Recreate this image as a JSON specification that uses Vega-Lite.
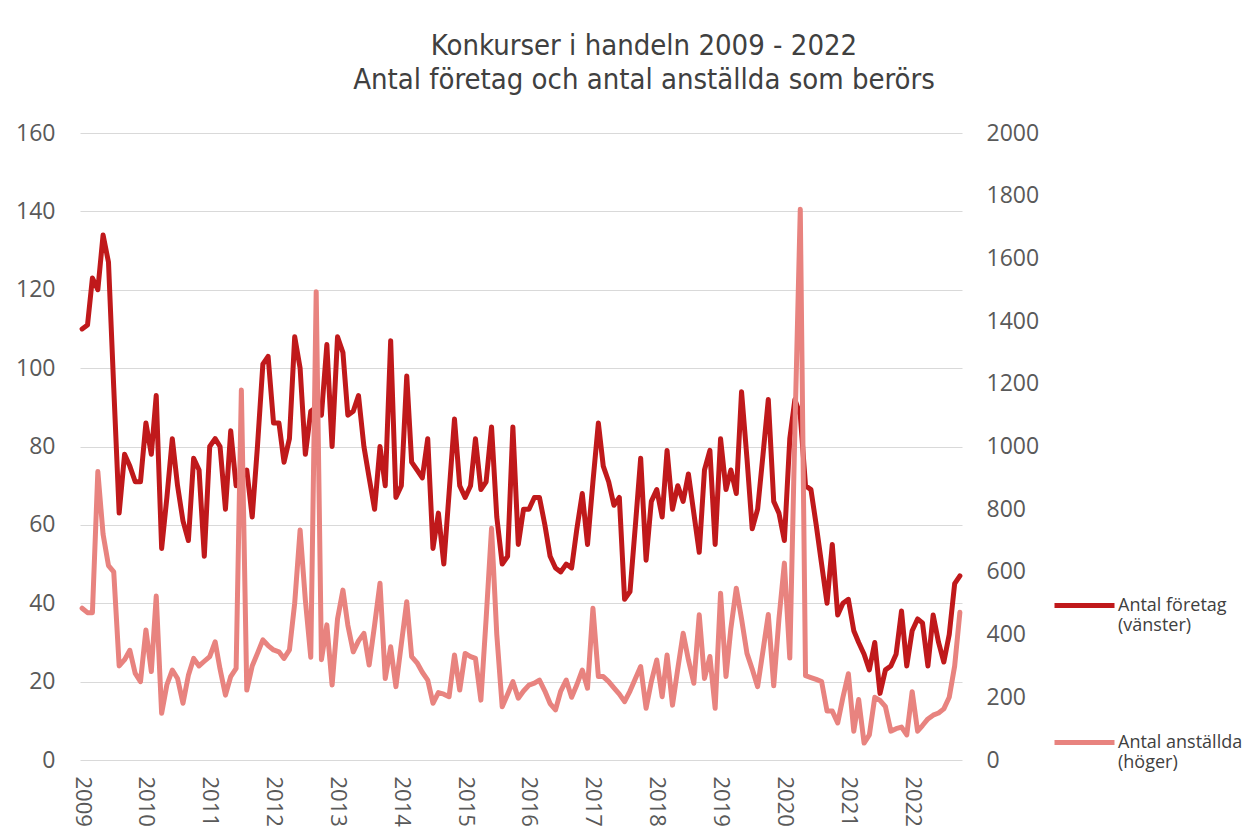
{
  "$schema": "https://vega.github.io/schema/vega-lite/v6.json",
  "width": 882,
  "height": 627,
  "autosize": {"type": "none"},
  "padding": {"left": 80, "top": 133, "right": 285, "bottom": 70},
  "background": "white",
  "title": {
    "text": ["Konkurser i handeln 2009 - 2022", "Antal företag  och antal anställda som berörs"],
    "font": "Liberation Sans Narrow, DejaVu Sans Condensed, sans-serif",
    "fontSize": 29,
    "fontWeight": "normal",
    "color": "#404040",
    "lineHeight": 34,
    "anchor": "middle",
    "dx": 123,
    "offset": 27
  },
  "config": {
    "view": {"stroke": null},
    "axis": {"labelFont": "Open Sans", "labelColor": "#595959", "title": null}
  },
  "data": {
    "values": [
      {"month": "2009-01-01", "foretag": 110, "anstallda": 484},
      {"month": "2009-02-01", "foretag": 111, "anstallda": 470},
      {"month": "2009-03-01", "foretag": 123, "anstallda": 470},
      {"month": "2009-04-01", "foretag": 120, "anstallda": 920},
      {"month": "2009-05-01", "foretag": 134, "anstallda": 720},
      {"month": "2009-06-01", "foretag": 127, "anstallda": 620},
      {"month": "2009-07-01", "foretag": 95, "anstallda": 600},
      {"month": "2009-08-01", "foretag": 63, "anstallda": 300},
      {"month": "2009-09-01", "foretag": 78, "anstallda": 320},
      {"month": "2009-10-01", "foretag": 75, "anstallda": 350},
      {"month": "2009-11-01", "foretag": 71, "anstallda": 276},
      {"month": "2009-12-01", "foretag": 71, "anstallda": 250},
      {"month": "2010-01-01", "foretag": 86, "anstallda": 415},
      {"month": "2010-02-01", "foretag": 78, "anstallda": 282},
      {"month": "2010-03-01", "foretag": 93, "anstallda": 523},
      {"month": "2010-04-01", "foretag": 54, "anstallda": 149},
      {"month": "2010-05-01", "foretag": 67, "anstallda": 240},
      {"month": "2010-06-01", "foretag": 82, "anstallda": 287},
      {"month": "2010-07-01", "foretag": 70, "anstallda": 260},
      {"month": "2010-08-01", "foretag": 61, "anstallda": 181},
      {"month": "2010-09-01", "foretag": 56, "anstallda": 270},
      {"month": "2010-10-01", "foretag": 77, "anstallda": 324},
      {"month": "2010-11-01", "foretag": 74, "anstallda": 300},
      {"month": "2010-12-01", "foretag": 52, "anstallda": 315},
      {"month": "2011-01-01", "foretag": 80, "anstallda": 330},
      {"month": "2011-02-01", "foretag": 82, "anstallda": 377},
      {"month": "2011-03-01", "foretag": 80, "anstallda": 290},
      {"month": "2011-04-01", "foretag": 64, "anstallda": 207},
      {"month": "2011-05-01", "foretag": 84, "anstallda": 266},
      {"month": "2011-06-01", "foretag": 70, "anstallda": 292},
      {"month": "2011-07-01", "foretag": 72, "anstallda": 1180},
      {"month": "2011-08-01", "foretag": 74, "anstallda": 223},
      {"month": "2011-09-01", "foretag": 62, "anstallda": 300},
      {"month": "2011-10-01", "foretag": 80, "anstallda": 340},
      {"month": "2011-11-01", "foretag": 101, "anstallda": 383},
      {"month": "2011-12-01", "foretag": 103, "anstallda": 365},
      {"month": "2012-01-01", "foretag": 86, "anstallda": 351},
      {"month": "2012-02-01", "foretag": 86, "anstallda": 345},
      {"month": "2012-03-01", "foretag": 76, "anstallda": 324},
      {"month": "2012-04-01", "foretag": 82, "anstallda": 351},
      {"month": "2012-05-01", "foretag": 108, "anstallda": 500},
      {"month": "2012-06-01", "foretag": 100, "anstallda": 734},
      {"month": "2012-07-01", "foretag": 78, "anstallda": 510},
      {"month": "2012-08-01", "foretag": 89, "anstallda": 328},
      {"month": "2012-09-01", "foretag": 90, "anstallda": 1494},
      {"month": "2012-10-01", "foretag": 88, "anstallda": 320},
      {"month": "2012-11-01", "foretag": 106, "anstallda": 431},
      {"month": "2012-12-01", "foretag": 80, "anstallda": 239},
      {"month": "2013-01-01", "foretag": 108, "anstallda": 450},
      {"month": "2013-02-01", "foretag": 104, "anstallda": 542},
      {"month": "2013-03-01", "foretag": 88, "anstallda": 430},
      {"month": "2013-04-01", "foretag": 89, "anstallda": 345},
      {"month": "2013-05-01", "foretag": 93, "anstallda": 380},
      {"month": "2013-06-01", "foretag": 80, "anstallda": 404},
      {"month": "2013-07-01", "foretag": 72, "anstallda": 303},
      {"month": "2013-08-01", "foretag": 64, "anstallda": 430},
      {"month": "2013-09-01", "foretag": 80, "anstallda": 564},
      {"month": "2013-10-01", "foretag": 70, "anstallda": 260},
      {"month": "2013-11-01", "foretag": 107, "anstallda": 361},
      {"month": "2013-12-01", "foretag": 67, "anstallda": 234},
      {"month": "2014-01-01", "foretag": 70, "anstallda": 370},
      {"month": "2014-02-01", "foretag": 98, "anstallda": 505},
      {"month": "2014-03-01", "foretag": 76, "anstallda": 330},
      {"month": "2014-04-01", "foretag": 74, "anstallda": 310},
      {"month": "2014-05-01", "foretag": 72, "anstallda": 280},
      {"month": "2014-06-01", "foretag": 82, "anstallda": 255},
      {"month": "2014-07-01", "foretag": 54, "anstallda": 181},
      {"month": "2014-08-01", "foretag": 63, "anstallda": 215},
      {"month": "2014-09-01", "foretag": 50, "anstallda": 210},
      {"month": "2014-10-01", "foretag": 68, "anstallda": 202},
      {"month": "2014-11-01", "foretag": 87, "anstallda": 335},
      {"month": "2014-12-01", "foretag": 70, "anstallda": 223},
      {"month": "2015-01-01", "foretag": 67, "anstallda": 340},
      {"month": "2015-02-01", "foretag": 70, "anstallda": 330},
      {"month": "2015-03-01", "foretag": 82, "anstallda": 324},
      {"month": "2015-04-01", "foretag": 69, "anstallda": 191},
      {"month": "2015-05-01", "foretag": 71, "anstallda": 450},
      {"month": "2015-06-01", "foretag": 85, "anstallda": 739},
      {"month": "2015-07-01", "foretag": 62, "anstallda": 400},
      {"month": "2015-08-01", "foretag": 50, "anstallda": 170},
      {"month": "2015-09-01", "foretag": 52, "anstallda": 210},
      {"month": "2015-10-01", "foretag": 85, "anstallda": 250},
      {"month": "2015-11-01", "foretag": 55, "anstallda": 197},
      {"month": "2015-12-01", "foretag": 64, "anstallda": 220},
      {"month": "2016-01-01", "foretag": 64, "anstallda": 239},
      {"month": "2016-02-01", "foretag": 67, "anstallda": 245},
      {"month": "2016-03-01", "foretag": 67, "anstallda": 255},
      {"month": "2016-04-01", "foretag": 60, "anstallda": 220},
      {"month": "2016-05-01", "foretag": 52, "anstallda": 180},
      {"month": "2016-06-01", "foretag": 49, "anstallda": 160},
      {"month": "2016-07-01", "foretag": 48, "anstallda": 220},
      {"month": "2016-08-01", "foretag": 50, "anstallda": 255},
      {"month": "2016-09-01", "foretag": 49, "anstallda": 200},
      {"month": "2016-10-01", "foretag": 59, "anstallda": 240},
      {"month": "2016-11-01", "foretag": 68, "anstallda": 287},
      {"month": "2016-12-01", "foretag": 55, "anstallda": 229},
      {"month": "2017-01-01", "foretag": 71, "anstallda": 484},
      {"month": "2017-02-01", "foretag": 86, "anstallda": 266},
      {"month": "2017-03-01", "foretag": 75, "anstallda": 266},
      {"month": "2017-04-01", "foretag": 71, "anstallda": 250},
      {"month": "2017-05-01", "foretag": 65, "anstallda": 230},
      {"month": "2017-06-01", "foretag": 67, "anstallda": 210},
      {"month": "2017-07-01", "foretag": 41, "anstallda": 186},
      {"month": "2017-08-01", "foretag": 43, "anstallda": 220},
      {"month": "2017-09-01", "foretag": 60, "anstallda": 260},
      {"month": "2017-10-01", "foretag": 77, "anstallda": 298},
      {"month": "2017-11-01", "foretag": 51, "anstallda": 165},
      {"month": "2017-12-01", "foretag": 66, "anstallda": 250},
      {"month": "2018-01-01", "foretag": 69, "anstallda": 319},
      {"month": "2018-02-01", "foretag": 62, "anstallda": 202},
      {"month": "2018-03-01", "foretag": 79, "anstallda": 335},
      {"month": "2018-04-01", "foretag": 64, "anstallda": 175},
      {"month": "2018-05-01", "foretag": 70, "anstallda": 290},
      {"month": "2018-06-01", "foretag": 66, "anstallda": 404},
      {"month": "2018-07-01", "foretag": 73, "anstallda": 320},
      {"month": "2018-08-01", "foretag": 63, "anstallda": 245},
      {"month": "2018-09-01", "foretag": 53, "anstallda": 463},
      {"month": "2018-10-01", "foretag": 74, "anstallda": 260},
      {"month": "2018-11-01", "foretag": 79, "anstallda": 330},
      {"month": "2018-12-01", "foretag": 55, "anstallda": 165},
      {"month": "2019-01-01", "foretag": 82, "anstallda": 532},
      {"month": "2019-02-01", "foretag": 69, "anstallda": 266},
      {"month": "2019-03-01", "foretag": 74, "anstallda": 420},
      {"month": "2019-04-01", "foretag": 68, "anstallda": 548},
      {"month": "2019-05-01", "foretag": 94, "anstallda": 450},
      {"month": "2019-06-01", "foretag": 77, "anstallda": 340},
      {"month": "2019-07-01", "foretag": 59, "anstallda": 290},
      {"month": "2019-08-01", "foretag": 64, "anstallda": 234},
      {"month": "2019-09-01", "foretag": 78, "anstallda": 350},
      {"month": "2019-10-01", "foretag": 92, "anstallda": 464},
      {"month": "2019-11-01", "foretag": 66, "anstallda": 237},
      {"month": "2019-12-01", "foretag": 63, "anstallda": 450},
      {"month": "2020-01-01", "foretag": 56, "anstallda": 628},
      {"month": "2020-02-01", "foretag": 82, "anstallda": 325},
      {"month": "2020-03-01", "foretag": 92, "anstallda": 1050},
      {"month": "2020-04-01", "foretag": 88, "anstallda": 1757},
      {"month": "2020-05-01", "foretag": 70, "anstallda": 269},
      {"month": "2020-06-01", "foretag": 69, "anstallda": 263},
      {"month": "2020-07-01", "foretag": 60, "anstallda": 257},
      {"month": "2020-08-01", "foretag": 50, "anstallda": 250},
      {"month": "2020-09-01", "foretag": 40, "anstallda": 156},
      {"month": "2020-10-01", "foretag": 55, "anstallda": 156},
      {"month": "2020-11-01", "foretag": 37, "anstallda": 118},
      {"month": "2020-12-01", "foretag": 40, "anstallda": 200},
      {"month": "2021-01-01", "foretag": 41, "anstallda": 275},
      {"month": "2021-02-01", "foretag": 33, "anstallda": 92},
      {"month": "2021-03-01", "foretag": 30, "anstallda": 193},
      {"month": "2021-04-01", "foretag": 27, "anstallda": 54},
      {"month": "2021-05-01", "foretag": 23, "anstallda": 80},
      {"month": "2021-06-01", "foretag": 30, "anstallda": 200},
      {"month": "2021-07-01", "foretag": 17, "anstallda": 190},
      {"month": "2021-08-01", "foretag": 23, "anstallda": 170},
      {"month": "2021-09-01", "foretag": 24, "anstallda": 92},
      {"month": "2021-10-01", "foretag": 27, "anstallda": 100},
      {"month": "2021-11-01", "foretag": 38, "anstallda": 105},
      {"month": "2021-12-01", "foretag": 24, "anstallda": 80},
      {"month": "2022-01-01", "foretag": 33, "anstallda": 218},
      {"month": "2022-02-01", "foretag": 36, "anstallda": 92},
      {"month": "2022-03-01", "foretag": 35, "anstallda": 110},
      {"month": "2022-04-01", "foretag": 24, "anstallda": 131},
      {"month": "2022-05-01", "foretag": 37, "anstallda": 143},
      {"month": "2022-06-01", "foretag": 30, "anstallda": 150},
      {"month": "2022-07-01", "foretag": 25, "anstallda": 163},
      {"month": "2022-08-01", "foretag": 32, "anstallda": 200},
      {"month": "2022-09-01", "foretag": 45, "anstallda": 300},
      {"month": "2022-10-01", "foretag": 47, "anstallda": 471}
    ]
  },
  "encoding": {
    "x": {
      "field": "month",
      "type": "temporal",
      "scale": {
        "type": "utc",
        "domain": [
          {"year": 2008, "month": 12, "date": 20, "utc": true},
          {"year": 2022, "month": 10, "date": 13, "utc": true}
        ]
      },
      "axis": {
        "format": "%Y",
        "formatType": "utc",
        "tickCount": {"interval": "year", "step": 1},
        "labelAngle": 90,
        "labelAlign": "left",
        "labelBaseline": "middle",
        "labelFontSize": 22,
        "labelPadding": 16,
        "labelOverlap": false,
        "labelFlush": false,
        "labelBound": false,
        "domain": false,
        "ticks": false,
        "grid": false
      }
    }
  },
  "layer": [
    {
      "mark": {"type": "line", "strokeWidth": 5, "strokeJoin": "round", "strokeCap": "round"},
      "encoding": {
        "y": {
          "field": "foretag",
          "type": "quantitative",
          "scale": {"domain": [0, 160]},
          "axis": {
            "values": [0, 20, 40, 60, 80, 100, 120, 140, 160],
            "format": "d",
            "domain": false,
            "ticks": false,
            "grid": true,
            "gridColor": "#D9D9D9",
            "gridWidth": 1.2,
            "labelFontSize": 23,
            "labelPadding": 25
          }
        },
        "color": {
          "datum": "Antal företag (vänster)",
          "scale": {
            "domain": ["Antal företag (vänster)", "Antal anställda (höger)"],
            "range": ["#C0191B", "#E8837F"]
          },
          "legend": {
            "orient": "none",
            "legendX": 972,
            "legendY": 440,
            "title": null,
            "padding": 0,
            "symbolType": "stroke",
            "symbolSize": 3600,
            "symbolStrokeWidth": 5,
            "labelFont": "Open Sans",
            "labelFontSize": 18,
            "labelColor": "#404040",
            "labelLimit": 300,
            "labelOffset": 1,
            "rowPadding": 75,
            "labelExpr": "datum.label == 'Antal företag (vänster)' ? ['Antal företag', '(vänster)'] : ['Antal anställda', '(höger)']"
          }
        }
      }
    },
    {
      "mark": {"type": "line", "strokeWidth": 5, "strokeJoin": "round", "strokeCap": "round"},
      "encoding": {
        "y": {
          "field": "anstallda",
          "type": "quantitative",
          "scale": {"domain": [0, 2000]},
          "axis": {
            "orient": "right",
            "values": [0, 200, 400, 600, 800, 1000, 1200, 1400, 1600, 1800, 2000],
            "format": "d",
            "domain": false,
            "ticks": false,
            "grid": false,
            "labelFontSize": 23,
            "labelPadding": 24
          }
        },
        "color": {"datum": "Antal anställda (höger)"}
      }
    }
  ],
  "resolve": {"scale": {"y": "independent"}}
}
